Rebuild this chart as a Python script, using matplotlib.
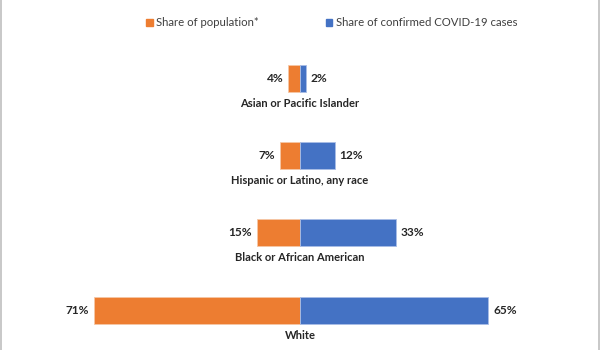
import matplotlib

matplotlib.use("Agg")
import matplotlib.pyplot as plt
from matplotlib.lines import Line2D
from matplotlib.patches import Patch

plt.rcParams["font.family"] = ["Lato", "DejaVu Sans"]

groups = ["Asian or Pacific Islander", "Hispanic or Latino, any race",
          "Black or African American", "White"]
population = [4, 7, 15, 71]
cases = [2, 12, 33, 65]
series_labels = ["Share of population*", "Share of confirmed COVID-19 cases"]

ORANGE = "#ED7D31"
BLUE = "#4472C4"
TEXT = "#262626"

fig = plt.figure(figsize=(6, 3.5), dpi=100)
ax = fig.add_axes([0, 0, 1, 1])

y = list(range(len(groups)))
ax.barh(y, [-v for v in population], height=0.35, color=ORANGE,
        edgecolor="#f6c7a6", linewidth=0.6)
ax.barh(y, cases, height=0.35, color=BLUE, edgecolor="#a9bde6", linewidth=0.6)

for i, (p, c, g) in enumerate(zip(population, cases, groups)):
    ax.annotate(f"{p}%", (-p, i), xytext=(-3.5, 0), textcoords="offset points",
                ha="right", va="center", fontsize=8.6, fontweight="bold", color=TEXT)
    ax.annotate(f"{c}%", (c, i), xytext=(3.5, 0), textcoords="offset points",
                ha="left", va="center", fontsize=8.6, fontweight="bold", color=TEXT)
    ax.annotate(g, (0, i), xytext=(0, -18), textcoords="offset points",
                ha="center", va="center", fontsize=8.0, fontweight="bold", color=TEXT)

ax.set_xlim(-103.45, 103.45)
ax.set_ylim(3.517, -1.017)
ax.axis("off")

handles = [Patch(color=ORANGE), Patch(color=BLUE)]
fig.legend(handles, series_labels, loc="center", bbox_to_anchor=(0.553, 1 - 23 / 350),
           ncol=2, frameon=False, fontsize=8.2, handlelength=0.55, handleheight=0.55,
           handletextpad=0.3, columnspacing=5.9, labelcolor="#404040")

# thin grey frame edges seen on the sides of the original
for xe in (0.001, 0.999):
    fig.add_artist(Line2D([xe, xe], [0, 1], transform=fig.transFigure,
                          color="#bfbfbf", linewidth=1.2))

fig.savefig("out.png", dpi=100)
